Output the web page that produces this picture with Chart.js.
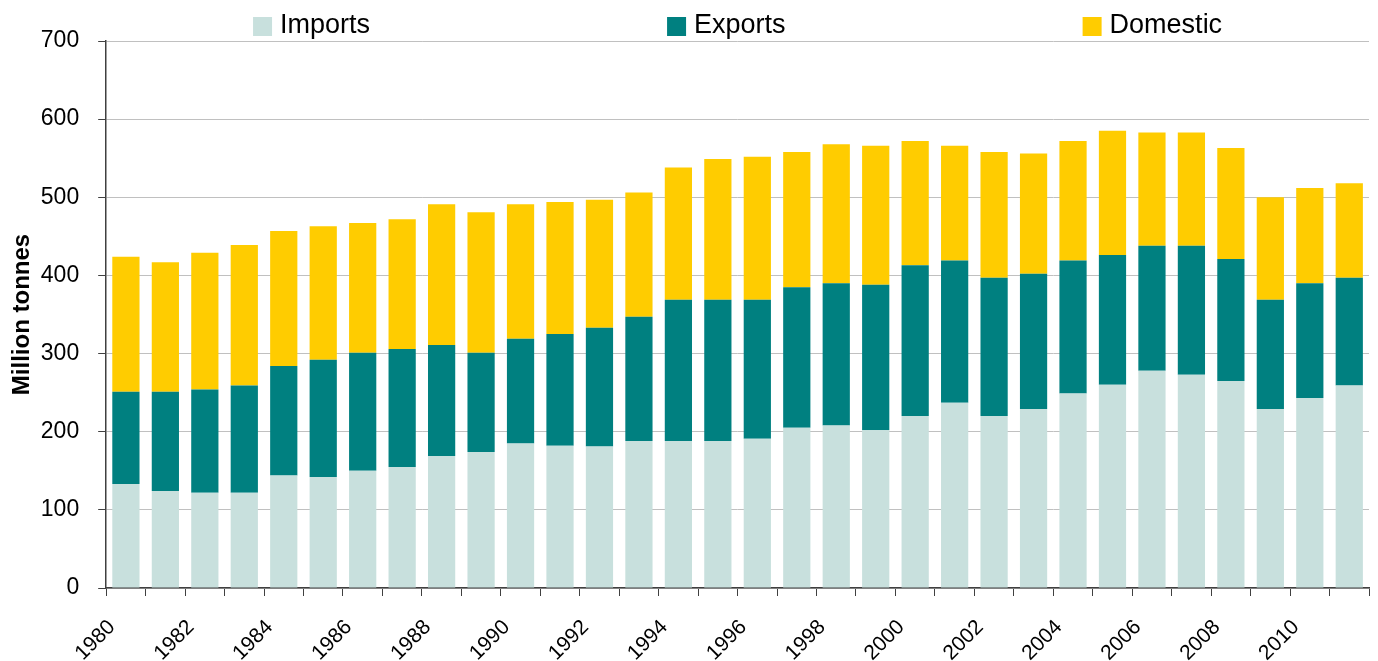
<!DOCTYPE html>
<html>
<head>
<meta charset="utf-8">
<script src="https://cdn.jsdelivr.net/npm/chart.js@4.4.1/dist/chart.umd.min.js"></script>
<style>
  html, body { margin: 0; padding: 0; background: #fff; }
  #wrap { width: 1378px; height: 661px; position: relative; }
</style>
</head>
<body>
<div id="wrap"><canvas id="tonnageChart"></canvas></div>
<script>
// Data
const years = ['1980','1981','1982','1983','1984','1985','1986','1987','1988','1989',
               '1990','1991','1992','1993','1994','1995','1996','1997','1998','1999',
               '2000','2001','2002','2003','2004','2005','2006','2007','2008','2009',
               '2010','2011'];
const imports = [133,124,122,122,144,142,150,155,169,174,185,182,181,188,188,188,
                 191,205,208,202,220,237,220,229,249,260,278,273,265,229,243,259];
const exports = [118,127,132,137,140,150,151,151,142,127,134,143,152,159,181,181,
                 178,180,182,186,193,182,177,173,170,166,160,165,156,140,147,138];
const domestic = [173,166,175,180,173,171,166,166,180,180,172,169,164,159,169,180,
                  183,173,178,178,159,147,161,154,153,159,145,145,142,131,122,121];
const seriesNames = ['Imports', 'Exports', 'Domestic'];
const seriesColors = ['#c8e0dd', '#008080', '#ffcc00'];
const yTicks = [0, 100, 200, 300, 400, 500, 600, 700];

const FONT = '"Liberation Sans", Arial, sans-serif';
const axisColor = '#404040';

// Legend drawn across the top, items spread wide apart
const topLegend = {
    id: 'topLegend',
    afterDraw(chart) {
        const ctx = chart.ctx;
        const area = chart.chartArea;
        const box = 19, textGap = 8, itemGap = 297;
        ctx.save();
        ctx.font = '27px ' + FONT;
        const widths = seriesNames.map(n => box + textGap + ctx.measureText(n).width);
        const total = widths.reduce((a, b) => a + b, 0) + itemGap * (widths.length - 1);
        let x = (area.left + area.right) / 2 - total / 2;
        seriesNames.forEach((name, i) => {
            ctx.fillStyle = seriesColors[i];
            ctx.fillRect(x, 17, box, box);
            ctx.fillStyle = '#000';
            ctx.textBaseline = 'middle';
            ctx.textAlign = 'left';
            ctx.fillText(name, x + box + textGap, 26);
            x += widths[i] + itemGap;
        });
        ctx.restore();
    }
};

function initChart() {
    const ctx = document.getElementById('tonnageChart');
    new Chart(ctx, {
        type: 'bar',
        data: {
            labels: years,
            datasets: seriesNames.map((name, i) => ({
                label: name,
                data: [imports, exports, domestic][i],
                backgroundColor: seriesColors[i],
                borderWidth: 0,
                barPercentage: 0.69,
                categoryPercentage: 1.0
            }))
        },
        options: {
            responsive: true,
            maintainAspectRatio: false,
            animation: false,
            layout: { padding: { top: 41, right: 9, left: 8, bottom: 0 } },
            plugins: {
                legend: { display: false },
                tooltip: { enabled: false }
            },
            scales: {
                x: {
                    stacked: true,
                    offset: true,
                    grid: { display: true, drawOnChartArea: false, tickLength: 8, tickColor: axisColor, offset: true },
                    border: { color: axisColor, width: 1.5 },
                    // rotated year labels may hang past the y axis, so no extra side padding
                    afterFit: function(axis) {
                        axis.paddingLeft = 0;
                        axis.paddingRight = 0;
                        axis.height = 73;
                    },
                    ticks: {
                        autoSkip: false,
                        minRotation: 45,
                        maxRotation: 45,
                        padding: 19,
                        labelOffset: -14,
                        color: '#000',
                        font: { family: FONT, size: 21 },
                        callback: function(value, index) {
                            return index % 2 === 0 ? years[index] : '';
                        }
                    }
                },
                y: {
                    stacked: true,
                    min: 0,
                    max: 700,
                    afterBuildTicks: function(axis) {
                        axis.ticks = yTicks.map(v => ({ value: v }));
                    },
                    // tick padding is counted twice in the width, take one back
                    afterFit: function(axis) {
                        axis.width -= axis.options.ticks.padding;
                    },
                    grid: { color: '#c0c0c0', lineWidth: 1, tickLength: 8, tickColor: axisColor },
                    border: { color: axisColor, width: 1.5 },
                    ticks: {
                        padding: 19,
                        color: '#000',
                        font: { family: FONT, size: 23 }
                    },
                    title: {
                        display: true,
                        text: 'Million tonnes',
                        color: '#000',
                        padding: { top: 0, bottom: 4 },
                        font: { family: FONT, size: 24, weight: 'bold' }
                    }
                }
            }
        },
        plugins: [topLegend]
    });
}

initChart();
</script>
</body>
</html>
